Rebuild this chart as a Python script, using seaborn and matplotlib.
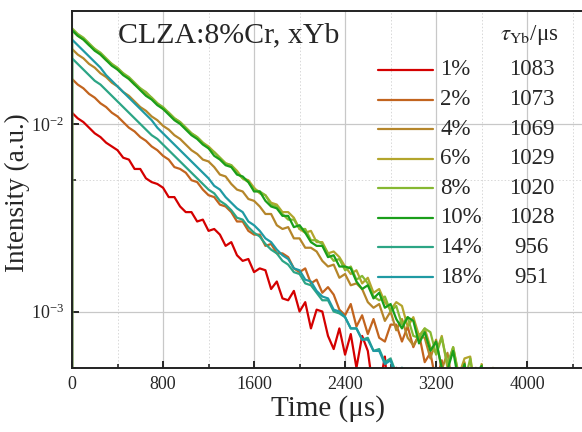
import numpy as np
import pandas as pd
import matplotlib
matplotlib.use("Agg")
import matplotlib.pyplot as plt
import seaborn as sns
from matplotlib.ticker import LogLocator, MultipleLocator, NullFormatter

# ---------------- data (log10 intensity, 50 us sampling) ----------------
STEP_US = 50
labels = ["1%", "2%", "4%", "6%", "8%", "10%", "14%", "18%"]
taus = ["1083", "1073", "1069", "1029", "1020", "1028", "956", "951"]
colors = ["#D40000", "#C2641E", "#B5862A", "#B3A52C", "#86B832", "#1A9E1A", "#2CA585", "#1F9AA3"]

log_1 = [-1.94, -1.97, -1.99, -2.02, -2.05, -2.07, -2.10, -2.12, -2.14, -2.18, -2.19, -2.24, -2.24,
         -2.29, -2.31, -2.32, -2.34, -2.39, -2.39, -2.44, -2.47, -2.47, -2.52, -2.51, -2.57, -2.56,
         -2.59, -2.65, -2.63, -2.70, -2.73, -2.72, -2.79, -2.77, -2.78, -2.88, -2.84, -2.93, -2.94,
         -2.89, -3.00, -2.95, -3.09, -2.99, -3.00, -3.13, -3.20, -3.09, -3.23, -3.12, -3.30, -3.13,
         -3.21, -3.43, -3.41, -3.24, -3.60, -3.30, -3.80]
log_2 = [-1.76, -1.79, -1.81, -1.84, -1.86, -1.89, -1.91, -1.94, -1.96, -1.99, -2.02, -2.04, -2.07,
         -2.09, -2.12, -2.14, -2.17, -2.19, -2.23, -2.24, -2.26, -2.30, -2.31, -2.35, -2.38, -2.39,
         -2.43, -2.44, -2.47, -2.52, -2.52, -2.57, -2.59, -2.59, -2.65, -2.64, -2.69, -2.69, -2.71,
         -2.77, -2.79, -2.77, -2.85, -2.83, -2.90, -2.87, -2.91, -2.99, -3.02, -2.96, -3.08, -3.02,
         -3.12, -3.04, -3.14, -3.16, -3.07, -3.07, -3.16, -3.08, -3.19, -3.12, -3.27, -3.22, -3.38,
         -3.26, -3.60, -3.90]
log_4 = [-1.60, -1.63, -1.65, -1.68, -1.70, -1.73, -1.75, -1.78, -1.80, -1.83, -1.85, -1.88, -1.91,
         -1.93, -1.96, -1.98, -2.01, -2.03, -2.06, -2.08, -2.11, -2.14, -2.16, -2.19, -2.20, -2.23,
         -2.27, -2.28, -2.32, -2.35, -2.36, -2.40, -2.41, -2.44, -2.48, -2.48, -2.54, -2.56, -2.55,
         -2.61, -2.61, -2.66, -2.66, -2.68, -2.73, -2.76, -2.75, -2.82, -2.80, -2.86, -2.85, -2.88,
         -2.95, -2.98, -2.96, -3.05, -3.00, -3.10, -3.04, -3.14, -3.18, -3.13, -3.14, -3.25, -3.15,
         -3.31, -3.22, -3.41, -3.45, -3.27, -3.60, -3.30, -3.90]
log_6 = [-1.50, -1.53, -1.55, -1.58, -1.60, -1.63, -1.66, -1.68, -1.71, -1.73, -1.76, -1.79, -1.81,
         -1.84, -1.86, -1.89, -1.92, -1.94, -1.97, -1.99, -2.02, -2.05, -2.07, -2.10, -2.12, -2.15,
         -2.18, -2.21, -2.22, -2.25, -2.29, -2.30, -2.34, -2.37, -2.38, -2.42, -2.43, -2.47, -2.47,
         -2.50, -2.56, -2.58, -2.57, -2.63, -2.63, -2.69, -2.68, -2.71, -2.76, -2.80, -2.78, -2.85,
         -2.82, -2.90, -2.88, -2.95, -2.99, -2.95, -2.97, -3.08, -3.03, -3.13, -3.09, -3.19, -3.22,
         -3.13, -3.30, -3.19, -3.34, -3.25, -3.24, -3.45, -3.28, -3.55, -3.30, -3.70, -3.32, -3.90]
log_8 = [-1.49, -1.52, -1.54, -1.57, -1.60, -1.62, -1.65, -1.68, -1.70, -1.73, -1.75, -1.78, -1.81,
         -1.83, -1.86, -1.89, -1.91, -1.94, -1.97, -1.99, -2.02, -2.05, -2.07, -2.10, -2.13, -2.15,
         -2.18, -2.21, -2.22, -2.26, -2.29, -2.31, -2.35, -2.36, -2.38, -2.43, -2.44, -2.48, -2.51,
         -2.51, -2.56, -2.56, -2.62, -2.62, -2.64, -2.69, -2.73, -2.72, -2.78, -2.76, -2.83, -2.81,
         -2.85, -2.92, -2.94, -2.92, -3.00, -2.97, -3.07, -3.03, -3.13, -3.14, -3.09, -3.11, -3.23,
         -3.14, -3.28, -3.19, -3.35, -3.38, -3.25, -3.45, -3.31, -3.60, -3.35, -3.90]
log_10 = [-1.50, -1.53, -1.55, -1.58, -1.61, -1.63, -1.66, -1.69, -1.71, -1.74, -1.76, -1.79, -1.82,
          -1.85, -1.87, -1.90, -1.92, -1.95, -1.98, -2.00, -2.03, -2.06, -2.08, -2.11, -2.13, -2.17,
          -2.19, -2.22, -2.23, -2.27, -2.28, -2.31, -2.36, -2.36, -2.41, -2.44, -2.45, -2.49, -2.49,
          -2.55, -2.54, -2.58, -2.63, -2.65, -2.65, -2.71, -2.70, -2.76, -2.76, -2.77, -2.84, -2.88,
          -2.86, -2.93, -2.90, -2.98, -2.96, -3.04, -3.09, -3.03, -3.05, -3.17, -3.11, -3.21, -3.16,
          -3.30, -3.31, -3.21, -3.38, -3.28, -3.45, -3.33, -3.29, -3.60, -3.40, -3.90]
log_14 = [-1.65, -1.68, -1.71, -1.74, -1.77, -1.79, -1.82, -1.85, -1.88, -1.91, -1.94, -1.97, -2.00,
          -2.03, -2.06, -2.08, -2.11, -2.14, -2.17, -2.20, -2.23, -2.26, -2.29, -2.32, -2.35, -2.37,
          -2.41, -2.43, -2.46, -2.50, -2.51, -2.55, -2.58, -2.60, -2.64, -2.67, -2.69, -2.73, -2.75,
          -2.79, -2.80, -2.85, -2.86, -2.90, -2.94, -2.94, -3.00, -3.01, -3.03, -3.09, -3.09, -3.15,
          -3.14, -3.21, -3.20, -3.27, -3.25, -3.33, -3.30, -3.42, -3.35, -3.60]
log_18 = [-1.55, -1.58, -1.61, -1.64, -1.67, -1.70, -1.74, -1.77, -1.80, -1.83, -1.86, -1.89, -1.92,
          -1.95, -1.98, -2.02, -2.05, -2.08, -2.11, -2.14, -2.17, -2.20, -2.23, -2.26, -2.29, -2.33,
          -2.35, -2.39, -2.42, -2.45, -2.47, -2.52, -2.54, -2.57, -2.61, -2.63, -2.67, -2.70, -2.72,
          -2.77, -2.78, -2.83, -2.84, -2.89, -2.92, -2.93, -2.99, -3.00, -3.03, -3.09, -3.09, -3.15,
          -3.15, -3.21, -3.21, -3.28, -3.26, -3.36, -3.30, -3.50, -3.60]
BASELINE = 1e-6  # signal level before the excitation pulse at t = 0

series_logs = [log_1, log_2, log_4, log_6, log_8, log_10, log_14, log_18]

rows = []
for lab, vals in zip(labels, series_logs):
    rows.append({"t": 0.0, "I": BASELINE, "series": lab})
    for k, v in enumerate(vals):
        rows.append({"t": k * STEP_US, "I": 10.0 ** v, "series": lab})
df = pd.DataFrame(rows)

# ---------------- style ----------------
sns.set_style("ticks")
plt.rcParams["font.family"] = ["Liberation Serif", "DejaVu Serif"]
plt.rcParams["mathtext.fontset"] = "stix"

fig = plt.figure(figsize=(5.82, 4.32), dpi=100)
ax = fig.add_axes([72 / 582, 64 / 432, 512 / 582, 357 / 432])

sns.lineplot(data=df, x="t", y="I", hue="series", hue_order=labels, palette=colors,
             estimator=None, sort=False, legend=False, lw=1.6, ax=ax)

ax.set_yscale("log")
ax.set_xlim(0, 4500)
ax.set_ylim(5e-4, 4e-2)

ax.xaxis.set_major_locator(MultipleLocator(800))
ax.xaxis.set_minor_locator(MultipleLocator(400))
ax.yaxis.set_major_locator(LogLocator(base=10, numticks=10))
ax.yaxis.set_minor_locator(LogLocator(base=10, subs=[5.0], numticks=10))
ax.yaxis.set_minor_formatter(NullFormatter())

ax.grid(which="major", color="#C8C8C8", lw=0.9, ls="-")
ax.grid(which="minor", color="#D8D8D8", lw=0.7, ls=(0, (1.5, 2)))
ax.set_axisbelow(True)

ax.tick_params(which="major", direction="in", length=5, width=1.4, labelsize=13, pad=6)
ax.tick_params(which="minor", direction="in", length=3, width=1.2)
for s in ax.spines.values():
    s.set_linewidth(1.4)
    s.set_color("#222222")

ax.set_xlabel("Time (μs)", fontsize=21, labelpad=1)
ax.set_ylabel("Intensity (a.u.)", fontsize=19.5)
ax.yaxis.set_label_coords(-0.083, 0.49)

ax.text(0.09, 0.933, "CLZA:8%Cr, xYb", transform=ax.transAxes, fontsize=21.5,
        va="center", ha="left")

# custom legend with lifetimes
ax.text(0.893, 0.933, r"$\tau_{\rm Yb}$/μs", transform=ax.transAxes, fontsize=16.5,
        va="center", ha="center")
y0, dy = 0.835, 0.0829
for i, (lab, tau, col) in enumerate(zip(labels, taus, colors)):
    y = y0 - i * dy
    ax.plot([0.598, 0.705], [y, y], transform=ax.transAxes, color=col, lw=1.6)
    ax.text(0.719, y, lab, transform=ax.transAxes, fontsize=16.5, va="center", ha="left")
    ax.text(0.898, y, tau, transform=ax.transAxes, fontsize=16.5, va="center", ha="center")

fig.savefig("out.png", dpi=100)
